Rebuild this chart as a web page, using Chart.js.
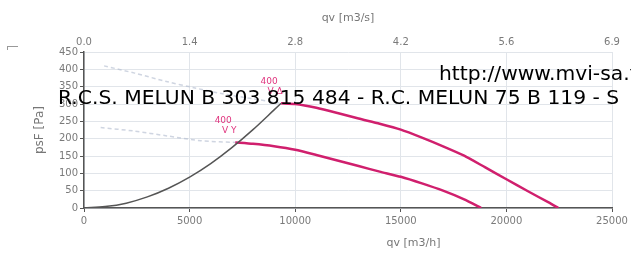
<!DOCTYPE html>
<html>
<head>
<meta charset="utf-8">
<script src="https://cdn.jsdelivr.net/npm/chart.js@4/dist/chart.umd.min.js"></script>
<style>
  body { margin: 0; background: #fff; overflow: hidden; }
  #wrap { position: relative; width: 631px; height: 254px; overflow: hidden; }
  .mark { position: absolute; white-space: nowrap; font-family: 'DejaVu Sans'; font-size: 20.3px; line-height: 20px; color: #000; }
  #corner { position: absolute; left: 7px; top: 46px; width: 10px; height: 3px; border-top: 1px solid #999; border-left: 1px solid #999; }
</style>
</head>
<body>
<div id="wrap">
  <canvas id="fanChart" width="631" height="254"></canvas>
  <div id="corner"></div>
  <div class="mark" style="left:439px; top:63px;">http://www.mvi-sa.fr</div>
  <div class="mark" style="left:58px; top:87px;">R.C.S. MELUN B 303 815 484 - R.C. MELUN 75 B 119 - S</div>
</div>
<script>
// courbe réseau (m3/h -> Pa)
const systemFlow = [0, 1000, 2000, 3000, 4000, 5000, 6000, 7000, 8000, 9000, 9330];
const systemPressure = [0, 4, 14, 32, 57, 89, 128, 174, 226, 283, 302];

// 400 triangle
const deltaFlow = [9330, 10000, 11000, 12000, 13000, 14000, 15000, 16000, 17000, 18000, 19000, 20000, 21000, 22000, 22460];
const deltaPressure = [302, 300, 289, 274, 258, 243, 226, 203, 178, 151, 117, 83, 49, 16, 0];
const deltaStallFlow = [950, 2400, 3900, 5200, 6500, 8000, 9330];
const deltaStallPressure = [410, 389, 365, 347, 330, 315, 302];

// 400 étoile
const starFlow = [7160, 8000, 9000, 10000, 11000, 12000, 13000, 14000, 15000, 16000, 17000, 18000, 18810];
const starPressure = [189, 185, 178, 168, 153, 137, 121, 105, 90, 71, 50, 25, 0];
const starStallFlow = [790, 2370, 3930, 5530, 7160];
const starStallPressure = [232, 222, 208, 194, 189];

const curveNames = [['400', 'V Δ'], ['400', 'V Y']];
const topTickLabels = ['0.0', '1.4', '2.8', '4.2', '5.6', '6.9'];
const bottomTitle = 'qv [m3/h]';

const pink = '#d01f6d';
const tickFont = { family: 'DejaVu Sans', size: 10 };

function pts(xs, ys) {
    return xs.map((x, i) => ({ x: x, y: ys[i] }));
}

// étiquettes des courbes + titre bas décalé
const annotations = {
    id: 'annotations',
    afterDatasetsDraw(chart) {
        const ctx = chart.ctx;
        const xs = chart.scales.x, ys = chart.scales.y;
        const starts = [[deltaFlow[0], deltaPressure[0]], [starFlow[0], starPressure[0]]];
        ctx.save();
        ctx.fillStyle = '#e0357f';
        ctx.font = '9px "DejaVu Sans"';
        ctx.textAlign = 'center';
        ctx.textBaseline = 'middle';
        starts.forEach((s, i) => {
            const px = xs.getPixelForValue(s[0]);
            const py = ys.getPixelForValue(s[1]);
            ctx.fillText(curveNames[i][0], px - 12, py - 22);
            ctx.fillText(curveNames[i][1], px - 6, py - 12);
        });
        ctx.fillStyle = '#777';
        ctx.font = '11px "DejaVu Sans"';
        ctx.fillText(bottomTitle, xs.getPixelForValue(15600), chart.chartArea.bottom + 35);
        ctx.restore();
    }
};

const ctx = document.getElementById('fanChart').getContext('2d');
const fanChart = new Chart(ctx, {
    type: 'scatter',
    data: {
        datasets: [
            {
                data: pts(deltaStallFlow, deltaStallPressure),
                showLine: true,
                borderColor: 'rgba(175, 185, 205, 0.6)',
                borderWidth: 1.5,
                borderDash: [4, 3],
                pointRadius: 0,
                tension: 0.3
            },
            {
                data: pts(starStallFlow, starStallPressure),
                showLine: true,
                borderColor: 'rgba(175, 185, 205, 0.6)',
                borderWidth: 1.5,
                borderDash: [4, 3],
                pointRadius: 0,
                tension: 0.3
            },
            {
                data: pts(systemFlow, systemPressure),
                showLine: true,
                borderColor: '#555',
                borderWidth: 1.5,
                pointRadius: 0,
                cubicInterpolationMode: 'monotone'
            },
            {
                data: pts(deltaFlow, deltaPressure),
                showLine: true,
                borderColor: pink,
                borderWidth: 2.5,
                pointRadius: 0,
                tension: 0.2
            },
            {
                data: pts(starFlow, starPressure),
                showLine: true,
                borderColor: pink,
                borderWidth: 2.5,
                pointRadius: 0,
                tension: 0.2
            }
        ]
    },
    options: {
        responsive: false,
        animation: false,
        layout: { padding: { left: 0, right: 19, top: 0, bottom: 0 } },
        plugins: {
            legend: { display: false },
            tooltip: { enabled: false }
        },
        scales: {
            x: {
                type: 'linear',
                position: 'bottom',
                min: 0,
                max: 25000,
                afterFit: s => { s.height = 46; },
                ticks: {
                    stepSize: 5000,
                    padding: 3,
                    color: '#7a7a7a',
                    font: tickFont,
                    maxRotation: 0,
                    callback: v => String(v)
                },
                grid: { color: '#e1e5ea', tickColor: '#555', tickLength: 4 },
                border: { color: '#555', width: 1.5 }
            },
            x2: {
                type: 'linear',
                position: 'top',
                min: 0,
                max: 25000,
                afterFit: s => { s.height = 52; },
                ticks: {
                    stepSize: 5000,
                    padding: 4,
                    color: '#7a7a7a',
                    font: tickFont,
                    maxRotation: 0,
                    callback: (v, i) => topTickLabels[i]
                },
                grid: { display: false, drawTicks: false },
                border: { display: false },
                title: {
                    display: true,
                    text: 'qv [m3/s]',
                    color: '#777',
                    font: { family: 'DejaVu Sans', size: 11 },
                    padding: { top: 12, bottom: 0 }
                }
            },
            y: {
                min: 0,
                max: 450,
                afterFit: s => { s.width = 84; },
                ticks: { stepSize: 50, padding: 2, color: '#7a7a7a', font: tickFont },
                grid: { color: '#e1e5ea', tickColor: '#555', tickLength: 4 },
                border: { color: '#555', width: 1.5 },
                title: {
                    display: true,
                    text: 'psF [Pa]',
                    color: '#777',
                    font: { family: 'DejaVu Sans', size: 12 },
                    padding: { top: 33, bottom: 0 }
                }
            }
        }
    },
    plugins: [annotations]
});
</script>
</body>
</html>
